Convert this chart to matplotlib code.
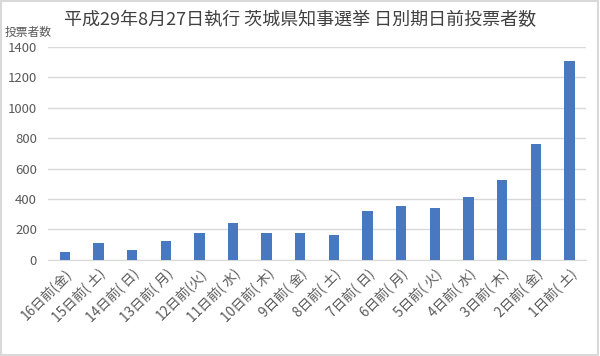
import matplotlib
matplotlib.use("Agg")
import matplotlib.pyplot as plt
from matplotlib.patches import Rectangle

plt.rcParams['font.family'] = ['Noto Sans CJK JP', 'DejaVu Sans']

# 期日前投票者数 (読み取り値)
days = ["16日前(金)", "15日前( 土)", "14日前( 日)", "13日前( 月)", "12日前(火)",
        "11日前( 水)", "10日前( 木)", "9日前( 金)", "8日前( 土)", "7日前( 日)",
        "6日前( 月)", "5日前( 火)", "4日前( 水)", "3日前( 木)", "2日前( 金)",
        "1日前( 土)"]
voters = [54, 113, 66, 123, 175, 240, 179, 174, 165, 319,
          356, 341, 413, 525, 765, 1310]
yticks = [0, 200, 400, 600, 800, 1000, 1200, 1400]

fig = plt.figure(figsize=(6, 3.56), dpi=100)
ax = fig.add_axes([0.08, 0.27, 0.897, 0.598])

ax.bar(range(len(days)), voters, width=0.31, color='#4878BF', zorder=3)

ax.set_xlim(-0.5, len(days) - 0.5)
ax.set_ylim(0, 1400)
ax.set_yticks(yticks)
ax.set_xticks(range(len(days)))
ax.set_xticklabels(days, rotation=45, ha='right', rotation_mode='anchor',
                   fontsize=9.8, color='#595959')
ax.tick_params(axis='y', labelsize=9.5, labelcolor='#595959', length=0, pad=8)
ax.tick_params(axis='x', length=0, pad=5)
ax.grid(axis='y', color='#d9d9d9', linewidth=1, zorder=0)
for s in ['top', 'right', 'left']:
    ax.spines[s].set_visible(False)
ax.spines['bottom'].set_color('#d9d9d9')

fig.text(0.5, 0.945, "平成29年8月27日執行 茨城県知事選挙 日別期日前投票者数",
         ha='center', va='center', fontsize=13, color='#404040')
fig.text(0.008, 0.908, "投票者数", ha='left', va='center', fontsize=8.5, color='#595959')

fig.add_artist(Rectangle((0.002, 0.003), 0.995, 0.993, transform=fig.transFigure,
                         fill=False, edgecolor='#d9d9d9', linewidth=1.5))

fig.savefig("out.png", dpi=100)
